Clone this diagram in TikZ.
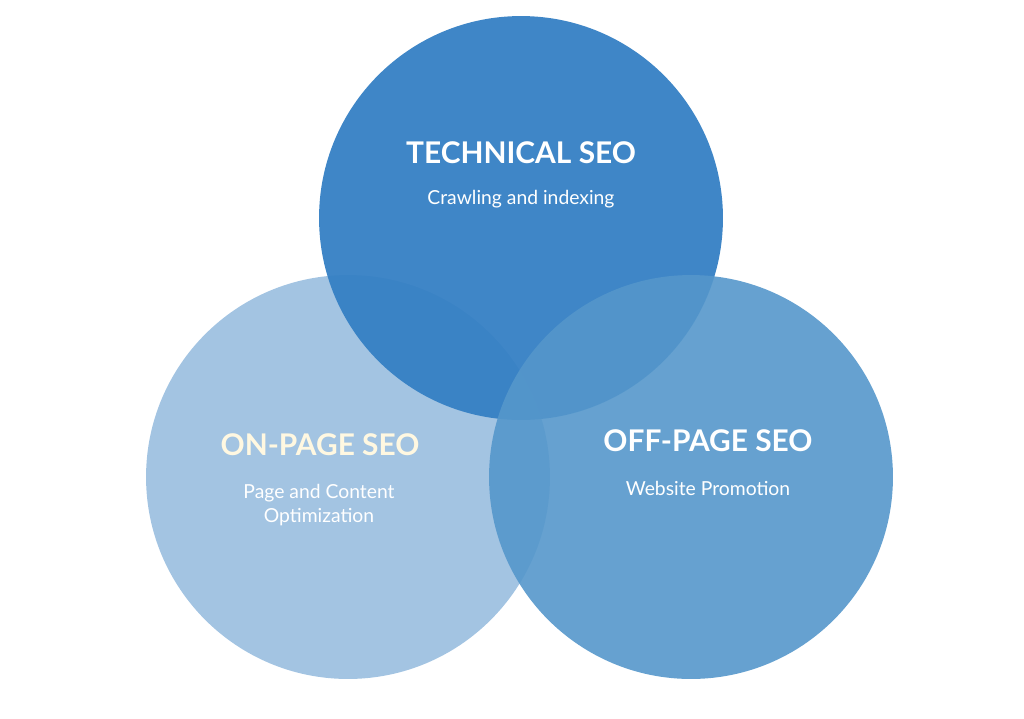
\documentclass[tikz,border=0pt]{standalone}
\usepackage{fontspec}
\setmainfont{Lato}
\definecolor{techblue}{HTML}{3580C4}
\definecolor{onblue}{HTML}{A3C4E2}
\definecolor{offblue}{HTML}{5597CB}
\definecolor{cream}{HTML}{FFF8E1}
\tikzset{
  seocircle/.style={circle,minimum size=8.08cm,inner sep=0pt},
  seotitle/.style={font=\bfseries\fontsize{17}{20}\selectfont,text=white},
  seotext/.style={font=\fontsize{11}{14}\selectfont,text=white,align=center}
}
\begin{document}
\begin{tikzpicture}[x=0.02cm,y=-0.02cm]
\useasboundingbox (0,0) rectangle (1024,718);
\node (onpage)[seocircle,fill=onblue] at (348,477) {};
\node (technical)[seocircle,fill=techblue,fill opacity=0.95] at (521,218) {};
\node (offpage)[seocircle,fill=offblue,fill opacity=0.9] at (691,477) {};
% labels
\node (techtitle)[seotitle] at (521,153) {TECHNICAL SEO};
\node (techtext)[seotext] at (521,199) {Crawling and indexing};
\node (ontitle)[seotitle,text=cream] at (320,445) {ON-PAGE SEO};
\node (ontext)[seotext] at (319,505) {Page and Content\\Optimization};
\node (offtitle)[seotitle] at (708,441) {OFF-PAGE SEO};
\node (offtext)[seotext] at (708,488) {Website Promotion};
\end{tikzpicture}
\end{document}
